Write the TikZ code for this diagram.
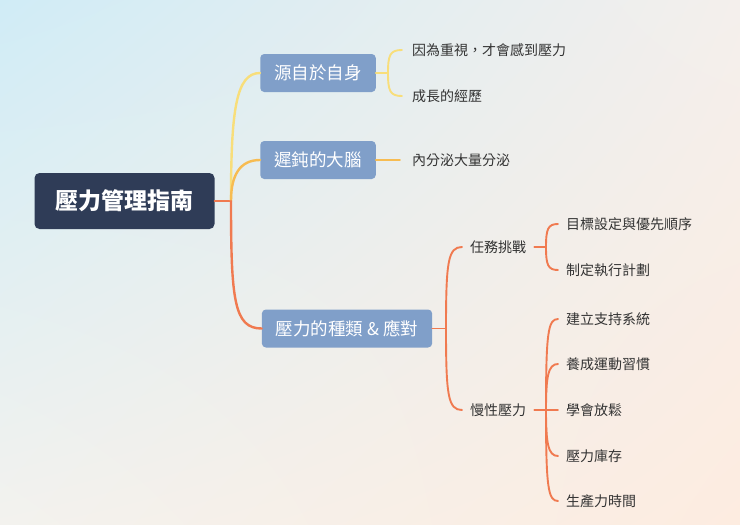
\documentclass[tikz,border=0pt]{standalone}
\usepackage{fontspec}
\setmainfont{Noto Sans CJK TC}
\usetikzlibrary{shadings}
\definecolor{bgtl}{HTML}{D0ECF6}
\definecolor{bgtr}{HTML}{F4EFEC}
\definecolor{bgbl}{HTML}{F3F2EE}
\definecolor{bgbr}{HTML}{FDECE0}
\definecolor{rootfill}{HTML}{2F3C57}
\definecolor{boxfill}{HTML}{809FC9}
\definecolor{cyel}{HTML}{F8DE7A}
\definecolor{corg}{HTML}{F7BC52}
\definecolor{cred}{HTML}{F07A50}
\definecolor{leaftext}{HTML}{333333}
\tikzset{
  rootbox/.style={fill=rootfill, rounded corners=5pt, text=white, font=\fontsize{23}{27}\selectfont\bfseries, minimum height=56pt, inner xsep=21pt, inner ysep=0pt},
  mainbox/.style={fill=boxfill, rounded corners=4pt, text=white, font=\fontsize{17.5}{21}\selectfont, minimum height=38pt, inner xsep=14pt, inner ysep=0pt},
  leaf/.style={text=leaftext, font=\fontsize{14}{17}\selectfont, inner sep=0pt, anchor=west},
  br1/.style={line width=2.4pt, line cap=round},
  br2/.style={line width=1.9pt, line cap=round},
}
\begin{document}
\begin{tikzpicture}[x=1pt,y=-1pt]
\useasboundingbox (0,0) rectangle (740,525);
\shade[upper left=bgtl, upper right=bgtr, lower left=bgbl, lower right=bgbr] (0,0) rectangle (740,525);

% nodes
\node[rootbox] (root) at (124.5,201) {壓力管理指南};
\node[mainbox] (n1) at (318,73) {源自於自身};
\node[mainbox] (n2) at (318,160) {遲鈍的大腦};
\node[mainbox] (n3) at (347,328.5) {壓力的種類 \& 應對};

\node[leaf] (l11) at (412,50) {因為重視，才會感到壓力};
\node[leaf] (l12) at (412,96) {成長的經歷};
\node[leaf] (l21) at (412,160) {內分泌大量分泌};

\node[leaf] (s1) at (470,247) {任務挑戰};
\node[leaf] (s2) at (470,410) {慢性壓力};

\node[leaf] (a1) at (566,224) {目標設定與優先順序};
\node[leaf] (a2) at (566,270) {制定執行計劃};

\node[leaf] (b1) at (566,319) {建立支持系統};
\node[leaf] (b2) at (566,364) {養成運動習慣};
\node[leaf] (b3) at (566,410) {學會放鬆};
\node[leaf] (b4) at (566,456) {壓力庫存};
\node[leaf] (b5) at (566,501) {生產力時間};

% junction coordinates
\coordinate (j0) at (231,201);
\coordinate (j1) at (388,73);
\coordinate (j3) at (446,328.5);
\coordinate (js1) at (546,247);
\coordinate (js2) at (546,410);

% root branches
\draw[br1, cred] (root.east) -- (j0);
\draw[br1, cyel] (j0) .. controls (231,110) and (236,73) .. (n1.west);
\draw[br1, corg] (j0) .. controls (231,175) and (240,160) .. (n2.west);
\draw[br1, cred] (j0) .. controls (231,300) and (234,328.5) .. (n3.west);

% n1 leaves
\draw[br2, cyel] (n1.east) -- (j1);
\draw[br2, cyel] (j1) .. controls (388,55) and (390,50) .. ([xshift=-10pt]l11.west);
\draw[br2, cyel] (j1) .. controls (388,91) and (390,96) .. ([xshift=-10pt]l12.west);

% n2 leaf
\draw[br2, corg] (n2.east) -- ([xshift=-12pt]l21.west);

% n3 sub
\draw[br2, cred] (n3.east) -- (j3);
\draw[br2, cred] (j3) .. controls (446,262) and (448,247) .. ([xshift=-8pt]s1.west);
\draw[br2, cred] (j3) .. controls (446,395) and (448,410) .. ([xshift=-8pt]s2.west);

% s1 leaves
\draw[br2, cred] ([xshift=8pt]s1.east) -- (js1);
\draw[br2, cred] (js1) .. controls (546,229) and (548,224) .. ([xshift=-8pt]a1.west);
\draw[br2, cred] (js1) .. controls (546,265) and (548,270) .. ([xshift=-8pt]a2.west);

% s2 leaves
\draw[br2, cred] ([xshift=8pt]s2.east) -- (js2);
\draw[br2, cred] (js2) .. controls (546,333) and (548,319) .. ([xshift=-8pt]b1.west);
\draw[br2, cred] (js2) .. controls (546,377) and (548,364) .. ([xshift=-8pt]b2.west);
\draw[br2, cred] (js2) -- ([xshift=-8pt]b3.west);
\draw[br2, cred] (js2) .. controls (546,443) and (548,456) .. ([xshift=-8pt]b4.west);
\draw[br2, cred] (js2) .. controls (546,487) and (548,501) .. ([xshift=-8pt]b5.west);
\end{tikzpicture}
\end{document}
